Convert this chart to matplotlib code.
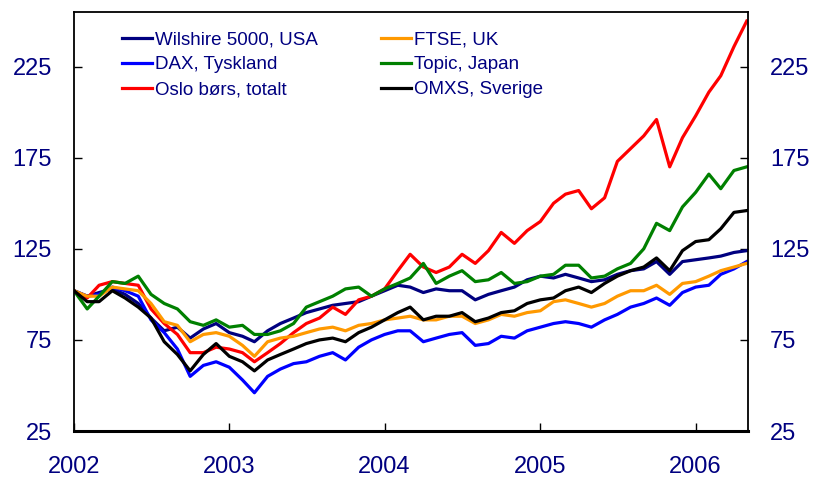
import matplotlib as mpl
from matplotlib import pyplot as plt
import matplotlib.dates as mdates
import pandas as pd

mpl.rcParams['font.family'] = ['Liberation Sans', 'DejaVu Sans']
mpl.rcParams['axes.unicode_minus'] = False

# månedlige punkter, jan 2002 - mai 2006
dates = pd.date_range('2002-01-01', '2006-05-01', freq='MS')

wilshire = [102, 99, 101, 103, 100, 95, 87, 80, 82, 76, 81, 84, 79, 77, 74, 80, 84, 87, 90, 92,
            94, 95, 96, 99, 102, 105, 104, 101, 103, 102, 102, 97, 100, 102, 104, 108, 110, 109,
            111, 109, 107, 108, 111, 113, 114, 118, 111, 118, 119, 120, 121, 123, 124]
dax = [102, 99, 100, 104, 102, 99, 86, 79, 70, 55, 61, 63, 60, 53, 46, 55, 59, 62, 63, 66,
       68, 64, 71, 75, 78, 80, 80, 74, 76, 78, 79, 72, 73, 77, 76, 80, 82, 84,
       85, 84, 82, 86, 89, 93, 95, 98, 94, 101, 104, 105, 111, 114, 118]
oslo = [102, 98, 105, 107, 106, 105, 92, 84, 78, 68, 68, 71, 70, 68, 63, 68, 73, 79, 84, 87,
        93, 89, 97, 99, 103, 113, 122, 115, 112, 115, 122, 117, 124, 134, 128, 135, 140, 150,
        155, 157, 147, 153, 173, 180, 187, 196, 170, 186, 198, 211, 220, 236, 250]
ftse = [102, 99, 99, 104, 103, 102, 95, 85, 83, 74, 78, 79, 77, 72, 66, 74, 76, 77, 79, 81,
        82, 80, 83, 84, 86, 87, 88, 86, 86, 88, 88, 84, 86, 89, 88, 90, 91, 96,
        97, 95, 93, 95, 99, 102, 102, 105, 100, 106, 107, 110, 113, 115, 117]
topix = [102, 92, 99, 107, 106, 110, 100, 95, 92, 85, 83, 86, 82, 83, 78, 78, 80, 84, 93, 96,
         99, 103, 104, 99, 103, 106, 109, 117, 106, 110, 113, 107, 108, 112, 106, 107, 110, 111,
         116, 116, 109, 110, 114, 117, 125, 139, 135, 148, 156, 166, 158, 168, 170]
omxs = [102, 96, 96, 102, 98, 93, 87, 74, 67, 58, 67, 73, 66, 63, 58, 64, 67, 70, 73, 75,
        76, 74, 79, 82, 86, 90, 93, 86, 88, 88, 90, 85, 87, 90, 91, 95, 97, 98,
        102, 104, 101, 106, 110, 113, 115, 120, 113, 124, 129, 130, 136, 145, 146]

series = [
    ('Wilshire 5000, USA', wilshire, '#000080'),
    ('DAX, Tyskland', dax, '#0000FF'),
    ('Oslo børs, totalt', oslo, '#FF0000'),
    ('FTSE, UK', ftse, '#FF9900'),
    ('Topic, Japan', topix, '#008000'),
    ('OMXS, Sverige', omxs, '#000000'),
]

textcol = '#000080'

fig = plt.figure(figsize=(8.13, 4.83), dpi=100)
ax = fig.add_axes([74 / 813, 1 - 431 / 483, 674 / 813, 419 / 483])

for name, vals, col in series:
    ax.plot(dates, vals, color=col, lw=2.3, label=name)

ax.set_ylim(25, 255)
ax.set_yticks([25, 75, 125, 175, 225])
ax.set_xlim(pd.Timestamp('2002-01-01'), pd.Timestamp('2006-05-04'))
ax.xaxis.set_major_locator(mdates.YearLocator())
ax.xaxis.set_major_formatter(mdates.DateFormatter('%Y'))

ax.tick_params(axis='y', direction='in', length=6, width=1, left=True, right=True,
               labelleft=True, labelright=True, labelsize=17, labelcolor=textcol, pad=16)
ax.tick_params(axis='x', direction='in', length=6, width=1, labelsize=17,
               labelcolor=textcol, pad=18)

for s in ['left', 'right', 'top']:
    ax.spines[s].set_linewidth(1.3)
ax.spines['bottom'].set_linewidth(2.2)

leg = ax.legend(loc='upper left', bbox_to_anchor=(0.071, 0.953), ncol=2, frameon=False,
                fontsize=13.5, handlelength=1.6, handletextpad=0.15, columnspacing=3.4,
                labelspacing=0.4, borderpad=0, borderaxespad=0)
for t in leg.get_texts():
    t.set_color(textcol)

fig.savefig('out.png', dpi=100)
